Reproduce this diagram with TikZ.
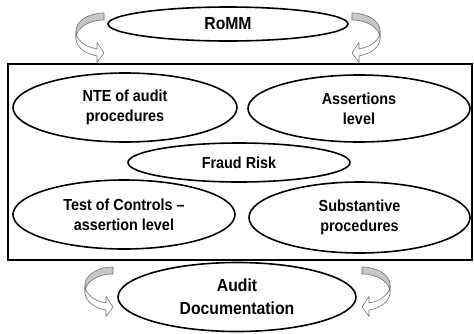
\documentclass[tikz,border=0pt]{standalone}
\usepackage{fontspec}
\setmainfont{Liberation Sans}[FakeStretch=0.9]
\usetikzlibrary{shapes.geometric}
\tikzset{
  oval/.style={ellipse, draw, line width=1.6pt, inner sep=0pt, align=center,
    font=\fontsize{16}{20}\selectfont\bfseries},
  bigoval/.style={oval, font=\fontsize{17.5}{23}\selectfont\bfseries},
  frame/.style={draw, line width=1.4pt, inner sep=0pt},
  arrowback/.style={fill=black!22, draw=black!55, line width=0.6pt, line join=round},
  arrowfront/.style={fill=white, draw=black!55, line width=0.6pt, line join=round},
}
\newcommand{\cvarrow}[1]{%
  \begin{scope}[#1]
    \path[arrowback]
      plot[domain=180:270,samples=24,variable=\t] ({28+28*cos(\t)},{18.25+18.25*sin(\t)})
      -- (28,7)
      -- plot[domain=270:180,samples=24,variable=\t] ({28+28*cos(\t)},{25.25+18.25*sin(\t)})
      -- cycle;
    \path[arrowfront]
      plot[domain=180:104.48,samples=24,variable=\t] ({28+28*cos(\t)},{18.25+18.25*sin(\t)})
      -- (21,29.42) -- (28,40) -- (21,49.42) -- (21,42.92)
      -- plot[domain=104.48:180,samples=24,variable=\t] ({28+28*cos(\t)},{25.25+18.25*sin(\t)})
      -- cycle;
  \end{scope}}
\begin{document}
\begin{tikzpicture}[x=1pt,y=-1pt]
\useasboundingbox (0,0) rectangle (474,333);
\fill[white] (0,0) rectangle (474,333);
% frame
\node[frame, minimum width=464pt, minimum height=196pt] (box) at (240,162) {};
% curved arrows
\cvarrow{shift={(76,13)}}
\cvarrow{shift={(380,13)}, xscale=-1}
\cvarrow{shift={(85,267)}}
\cvarrow{shift={(390,267)}, xscale=-1}
% ovals
\node[bigoval, minimum width=240pt, minimum height=34pt] (romm) at (228,24) {RoMM};
\node[oval, minimum width=224pt, minimum height=69pt] (nte) at (125,107.5) {NTE of audit\\procedures};
\node[oval, minimum width=222pt, minimum height=67pt] (ass) at (359,108.5) {Assertions\\level};
\node[oval, minimum width=222pt, minimum height=39pt] (fraud) at (239,162.5) {Fraud Risk};
\node[oval, minimum width=222pt, minimum height=69pt] (toc) at (124,214.5) {Test of Controls –\\assertion level};
\node[oval, minimum width=221pt, minimum height=71pt] (sub) at (359.5,217.5) {Substantive\\procedures};
\node[bigoval, minimum width=238pt, minimum height=69pt] (audit) at (237,297) {Audit\\Documentation};
\end{tikzpicture}
\end{document}
